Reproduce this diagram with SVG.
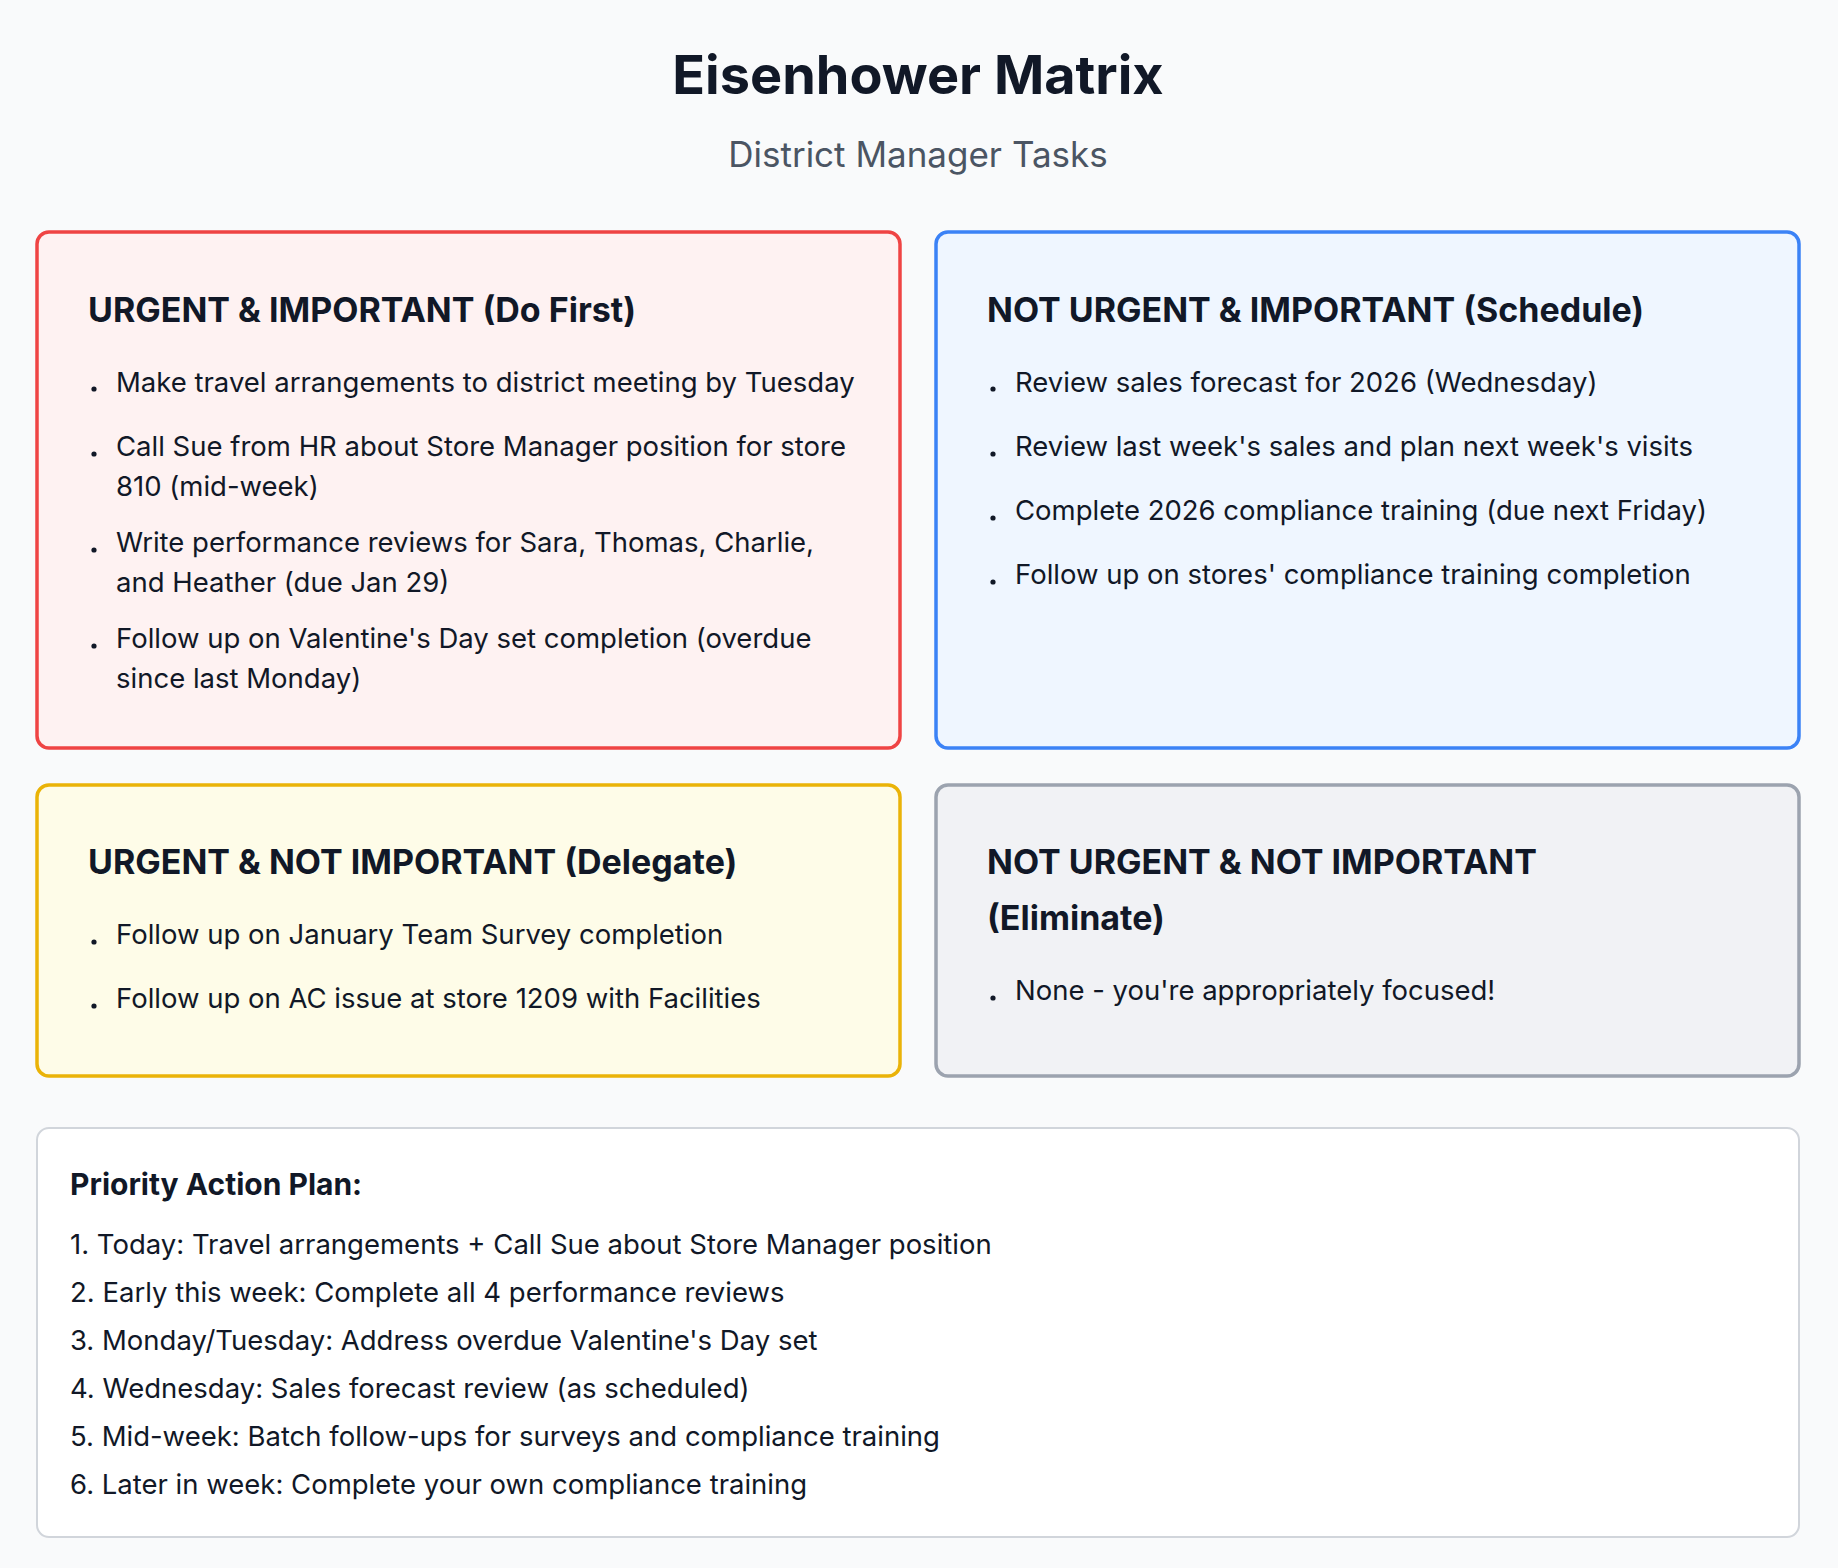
<svg xmlns="http://www.w3.org/2000/svg" width="1838" height="1568" viewBox="0 0 1838 1568">
<style>
text{font-family:Inter,"Liberation Sans",sans-serif;fill:#111827}
.t{font-size:54px;font-weight:700;text-anchor:middle}
.s{font-size:35px;fill:#4b5563;text-anchor:middle}
.h{font-size:34px;font-weight:700}
.i{font-size:27.5px}
.ph{font-size:30px;font-weight:700}
.box{stroke-width:3.5}
</style>
<rect width="1838" height="1568" fill="#f9fafb"/>
<text class="t" x="918" y="94">Eisenhower Matrix</text>
<text class="s" x="918" y="167">District Manager Tasks</text>
<g id="q1">
<rect class="box" x="37" y="232" width="863" height="516" rx="12" fill="#fef2f2" stroke="#ef4444"/>
<text class="h" x="88" y="322">URGENT &amp; IMPORTANT (Do First)</text>
<g fill="#111827"><circle cx="94" cy="389" r="2.6"/><circle cx="94" cy="454" r="2.6"/><circle cx="94" cy="550" r="2.6"/><circle cx="94" cy="646" r="2.6"/></g>
<text class="i" x="116" y="392">Make travel arrangements to district meeting by Tuesday</text>
<text class="i" x="116" y="456">Call Sue from HR about Store Manager position for store</text>
<text class="i" x="116" y="496">810 (mid-week)</text>
<text class="i" x="116" y="552">Write performance reviews for Sara, Thomas, Charlie,</text>
<text class="i" x="116" y="592">and Heather (due Jan 29)</text>
<text class="i" x="116" y="648">Follow up on Valentine's Day set completion (overdue</text>
<text class="i" x="116" y="688">since last Monday)</text>
</g>
<g id="q2">
<rect class="box" x="936" y="232" width="863" height="516" rx="12" fill="#eff6ff" stroke="#3b82f6"/>
<text class="h" x="987" y="322">NOT URGENT &amp; IMPORTANT (Schedule)</text>
<g fill="#111827"><circle cx="993" cy="389" r="2.6"/><circle cx="993" cy="454" r="2.6"/><circle cx="993" cy="518" r="2.6"/><circle cx="993" cy="582" r="2.6"/></g>
<text class="i" x="1015" y="392">Review sales forecast for 2026 (Wednesday)</text>
<text class="i" x="1015" y="456">Review last week's sales and plan next week's visits</text>
<text class="i" x="1015" y="520">Complete 2026 compliance training (due next Friday)</text>
<text class="i" x="1015" y="584">Follow up on stores' compliance training completion</text>
</g>
<g id="q3">
<rect class="box" x="37" y="785" width="863" height="291" rx="12" fill="#fefce8" stroke="#eab308"/>
<text class="h" x="88" y="874">URGENT &amp; NOT IMPORTANT (Delegate)</text>
<g fill="#111827"><circle cx="94" cy="942" r="2.6"/><circle cx="94" cy="1006" r="2.6"/></g>
<text class="i" x="116" y="944">Follow up on January Team Survey completion</text>
<text class="i" x="116" y="1008">Follow up on AC issue at store 1209 with Facilities</text>
</g>
<g id="q4">
<rect class="box" x="936" y="785" width="863" height="291" rx="12" fill="#f1f2f5" stroke="#9ca3af"/>
<text class="h" x="987" y="874">NOT URGENT &amp; NOT IMPORTANT</text>
<text class="h" x="987" y="930">(Eliminate)</text>
<circle cx="993" cy="998" r="2.6" fill="#111827"/>
<text class="i" x="1015" y="1000">None - you're appropriately focused!</text>
</g>
<g id="plan">
<rect x="37" y="1128" width="1762" height="409" rx="12" fill="#ffffff" stroke="#d1d5db" stroke-width="2"/>
<text class="ph" x="70" y="1195">Priority Action Plan:</text>
<text class="i" x="70" y="1254">1. Today: Travel arrangements + Call Sue about Store Manager position</text>
<text class="i" x="70" y="1302">2. Early this week: Complete all 4 performance reviews</text>
<text class="i" x="70" y="1350">3. Monday/Tuesday: Address overdue Valentine's Day set</text>
<text class="i" x="70" y="1398">4. Wednesday: Sales forecast review (as scheduled)</text>
<text class="i" x="70" y="1446">5. Mid-week: Batch follow-ups for surveys and compliance training</text>
<text class="i" x="70" y="1494">6. Later in week: Complete your own compliance training</text>
</g>
</svg>
